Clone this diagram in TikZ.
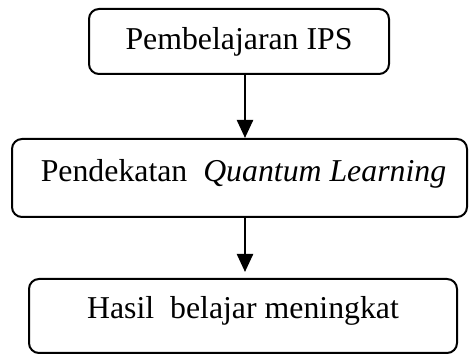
\documentclass[tikz,border=0pt]{standalone}
\usepackage{fontspec}
\setmainfont{Liberation Serif}
\usetikzlibrary{arrows.meta}

\tikzset{
	box/.style={draw, line width=1pt, rounded corners=5pt, inner sep=0pt},
	lbl/.style={inner sep=0pt, font=\fontsize{15.9}{18}\selectfont},
	arr/.style={line width=1.2pt, -{Triangle[width=8pt,length=9pt]}}
}

\begin{document}
\begin{tikzpicture}[x=0.5pt,y=-0.5pt]
	\useasboundingbox (0,0) rectangle (470,356);
	% boxes
	\node[box, minimum width=150pt, minimum height=32.5pt] (ips) at (239,41.5) {};
	\node[box, minimum width=227.5pt, minimum height=39pt] (ql) at (239.5,178) {};
	\node[box, minimum width=214pt, minimum height=37pt] (hasil) at (243,316) {};
	
	% texts
	\node[lbl] (ipstext) at (ips.center) {Pembelajaran IPS};
	\node[lbl] (qltext) at ([shift={(2pt,2pt)}]ql.center) {Pendekatan\ \ \textit{Quantum Learning}};
	\node[lbl] (hasiltext) at ([shift={(0pt,2.5pt)}]hasil.center) {Hasil\ \ belajar meningkat};
	
	% arrows
	\coordinate (tip) at (245,272);
	\draw[arr] (ips.south -| tip) -- (ql.north -| tip);
	\draw[arr] (ql.south -| tip) -- (tip);
\end{tikzpicture}
\end{document}
